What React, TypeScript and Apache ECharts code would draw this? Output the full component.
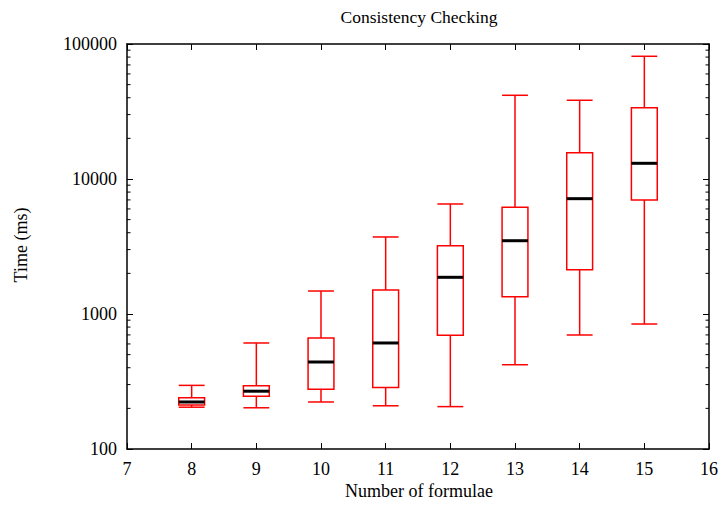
import React, { useEffect, useRef } from "react";
import * as echarts from "echarts";

// Data (ms)
const formulae = [8, 9, 10, 11, 12, 13, 14, 15];
const whiskerLow = [204, 202, 223, 209, 206, 421, 699, 843];
const quartile1 = [212, 246, 277, 286, 695, 1343, 2130, 6990];
const medians = [223, 268, 441, 610, 1870, 3490, 7150, 13070];
const quartile3 = [240, 294, 664, 1505, 3205, 6170, 15660, 33740];
const whiskerHigh = [296, 610, 1480, 3720, 6530, 41700, 38300, 81100];

// Axis definitions
const xTickLabels = [7, 8, 9, 10, 11, 12, 13, 14, 15, 16];
const yTickLabels = [100, 1000, 10000, 100000];
const yMinorTicks = [
  200, 300, 400, 500, 600, 700, 800, 900,
  2000, 3000, 4000, 5000, 6000, 7000, 8000, 9000,
  20000, 30000, 40000, 50000, 60000, 70000, 80000, 90000,
];

const TITLE = "Consistency Checking";
const X_NAME = "Number of formulae";
const Y_NAME = "Time (ms)";

const FONT = '"Liberation Serif", "Times New Roman", serif';

export default function App() {
  const ref = useRef<HTMLDivElement>(null);

  useEffect(() => {
    if (!ref.current) return;
    const chart = echarts.init(ref.current, undefined, { renderer: "svg" });

    const xMin = xTickLabels[0];
    const xMax = xTickLabels[xTickLabels.length - 1];
    const yMin = yTickLabels[0];
    const yMax = yTickLabels[yTickLabels.length - 1];

    const boxData = formulae.map((x, i) => [
      x,
      whiskerLow[i],
      quartile1[i],
      medians[i],
      quartile3[i],
      whiskerHigh[i],
    ]);
    const minorData = yMinorTicks.map((v) => [xMin, v]);

    const axisLine = { show: true, lineStyle: { color: "#000", width: 1.5 } };
    const label = { fontFamily: FONT, fontSize: 18, color: "#000" };
    const textStyle = (text: string) => ({
      text,
      align: "center",
      verticalAlign: "middle",
      fontFamily: FONT,
      fontSize: 18,
      fill: "#000",
    });

    const option: any = {
      animation: false,
      backgroundColor: "#fff",
      grid: { left: 127, right: 9, top: 44, bottom: 56, containLabel: false },
      graphic: [
        { type: "text", x: 419, y: 17, style: { ...textStyle(TITLE), fontSize: 17.5 } },
        { type: "text", x: 419, y: 491, style: textStyle(X_NAME) },
        { type: "text", x: 21, y: 245, rotation: Math.PI / 2, style: textStyle(Y_NAME) },
      ],
      xAxis: [
        {
          type: "value",
          min: xMin,
          max: xMax,
          interval: 1,
          position: "bottom",
          axisLine,
          axisTick: { show: true, inside: true, length: 6, lineStyle: { color: "#000", width: 1 } },
          axisLabel: { ...label, margin: 11, formatter: (v: number) => String(v) },
          splitLine: { show: false },
        },
        {
          type: "value",
          min: xMin,
          max: xMax,
          interval: 1,
          position: "top",
          axisLine,
          axisTick: { show: true, inside: true, length: 6, lineStyle: { color: "#000", width: 1 } },
          axisLabel: { show: false },
          splitLine: { show: false },
        },
      ],
      yAxis: [
        {
          type: "log",
          logBase: 10,
          min: yMin,
          max: yMax,
          position: "left",
          axisLine,
          axisTick: { show: true, inside: true, length: 6, lineStyle: { color: "#000", width: 1 } },
          axisLabel: { ...label, margin: 10, formatter: (v: number) => String(Math.round(v)) },
          splitLine: { show: false },
        },
        {
          type: "log",
          logBase: 10,
          min: yMin,
          max: yMax,
          position: "right",
          axisLine,
          axisTick: { show: true, inside: true, length: 6, lineStyle: { color: "#000", width: 1 } },
          axisLabel: { show: false },
          splitLine: { show: false },
        },
      ],
      series: [
        {
          type: "custom",
          name: "minor ticks",
          xAxisIndex: 0,
          yAxisIndex: 0,
          silent: true,
          encode: { x: 0, y: 1 },
          data: minorData,
          renderItem: (params: any, api: any) => {
            const v = api.value(1);
            const pl = api.coord([xMin, v]);
            const pr = api.coord([xMax, v]);
            const st = { stroke: "#000", lineWidth: 1 };
            return {
              type: "group",
              children: [
                { type: "line", shape: { x1: pl[0], y1: pl[1], x2: pl[0] + 3.5, y2: pl[1] }, style: st },
                { type: "line", shape: { x1: pr[0], y1: pr[1], x2: pr[0] - 3.5, y2: pr[1] }, style: st },
              ],
            };
          },
        },
        {
          type: "custom",
          name: "Time",
          xAxisIndex: 0,
          yAxisIndex: 0,
          encode: { x: 0, y: [1, 2, 3, 4, 5] },
          data: boxData,
          renderItem: (params: any, api: any) => {
            const x = api.value(0);
            const pMin = api.coord([x, api.value(1)]);
            const pQ1 = api.coord([x, api.value(2)]);
            const pMed = api.coord([x, api.value(3)]);
            const pQ3 = api.coord([x, api.value(4)]);
            const pMax = api.coord([x, api.value(5)]);
            const half = api.coord([x + 0.2, api.value(3)])[0] - pMed[0];
            const cx = pMed[0];
            const red = { stroke: "#ff0000", lineWidth: 1.5, fill: "none" };
            return {
              type: "group",
              children: [
                { type: "line", shape: { x1: cx, y1: pQ1[1], x2: cx, y2: pMin[1] }, style: red },
                { type: "line", shape: { x1: cx - half, y1: pMin[1], x2: cx + half, y2: pMin[1] }, style: red },
                { type: "line", shape: { x1: cx, y1: pQ3[1], x2: cx, y2: pMax[1] }, style: red },
                { type: "line", shape: { x1: cx - half, y1: pMax[1], x2: cx + half, y2: pMax[1] }, style: red },
                {
                  type: "rect",
                  shape: { x: cx - half, y: pQ3[1], width: 2 * half, height: pQ1[1] - pQ3[1] },
                  style: red,
                },
                {
                  type: "line",
                  shape: { x1: cx - half, y1: pMed[1], x2: cx + half, y2: pMed[1] },
                  style: { stroke: "#000", lineWidth: 3 },
                },
              ],
            };
          },
        },
      ],
    };

    chart.setOption(option);
    return () => chart.dispose();
  }, []);

  return (
    <div
      ref={ref}
      style={{ position: "fixed", left: 0, top: 0, width: 721, height: 505 }}
    />
  );
}
